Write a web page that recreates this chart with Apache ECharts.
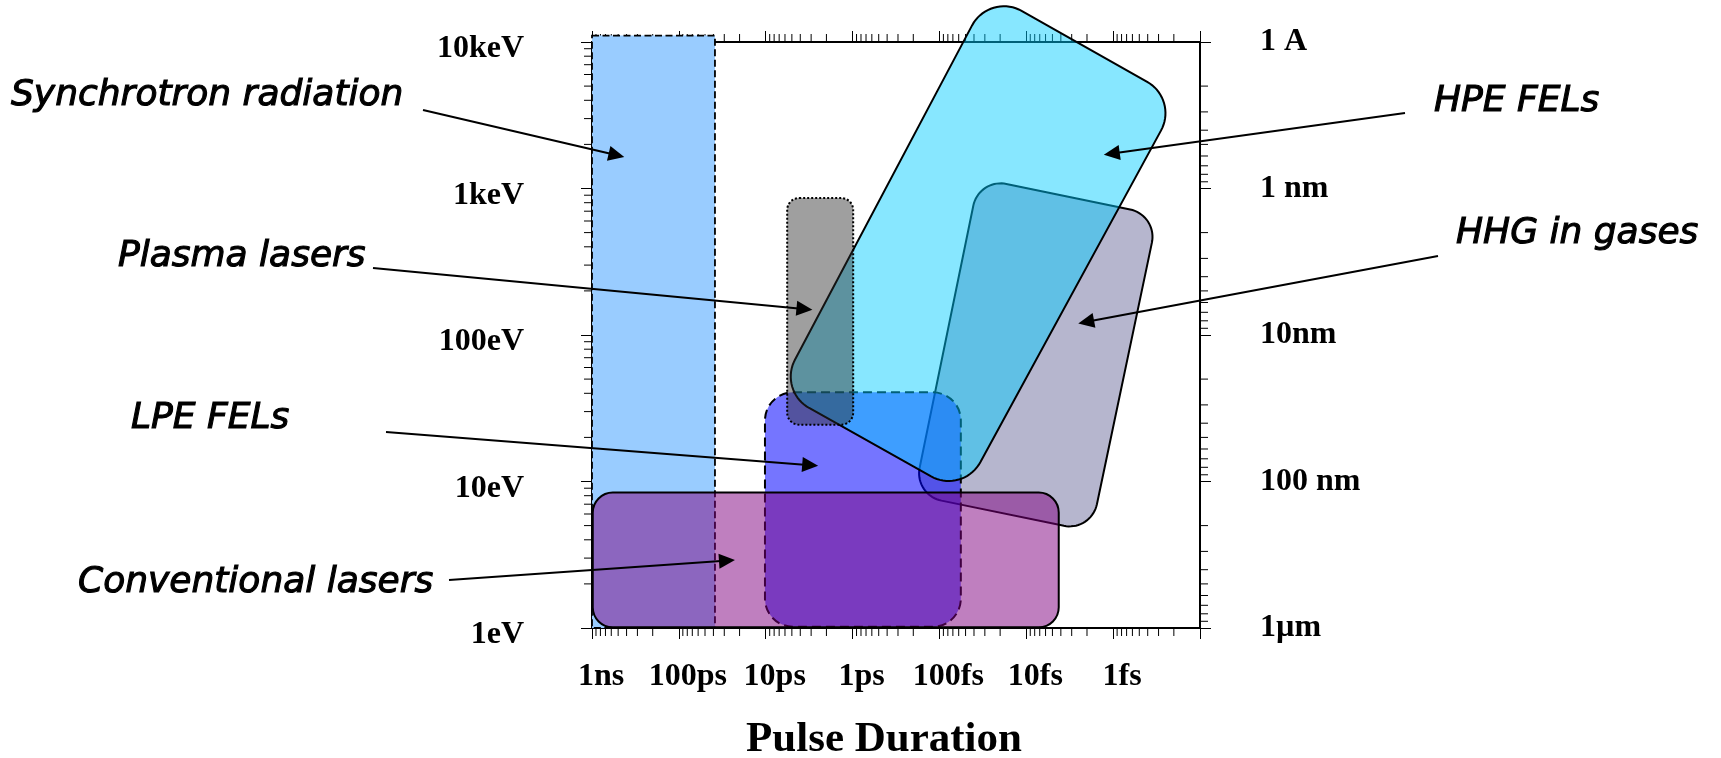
<!DOCTYPE html>
<html><head><meta charset="utf-8">
<script src="https://cdn.jsdelivr.net/npm/echarts@6/dist/echarts.min.js"></script>
<style>html,body{margin:0;padding:0;background:#fff}#c{width:1721px;height:758px}</style>
</head><body><div id="c"></div>
<script>
// ---------- axis ticks / labels ----------
const timeTickValues = [1e-9, 1e-10, 1e-11, 1e-12, 1e-13, 1e-14, 1e-15, 1e-16];
const timeTickLabels = ['1ns', '100ps', '10ps', '1ps', '100fs', '10fs', '1fs', ''];
const energyTickValues = [1, 10, 100, 1000, 10000];
const energyTickLabels = ['1eV', '10eV', '100eV', '1keV', '10keV'];
const wavelengthTickValues = [0.1, 1, 10, 100, 1000];
const wavelengthTickLabels = ['1 A', '1 nm', '10nm', '100 nm', '1\u00b5m'];
const minorMultipliers = [2, 3, 4, 5, 6, 7, 8, 9];
const timeDecades = [-16, -15, -14, -13, -12, -11, -10];
const energyDecades = [0, 1, 2, 3];
const wavelengthDecades = [-1, 0, 1, 2];

// ---------- regions (pulse duration [s], photon energy [eV]) ----------
// axis-aligned boxes: [longest duration, lowest energy, shortest duration, highest energy]
const synchrotronBox = [1e-9, 1, 3.84e-11, 11060];
const plasmaBox = [5.66e-12, 24.4, 9.84e-13, 861];
const lpeBox = [1.02e-11, 1.02, 5.67e-14, 40.6];
const conventionalBox = [9.8e-10, 1.01, 4.23e-15, 8.4];
// tilted regions: corner points [duration, energy]
const hpeCorners = [[2.66e-14, 21700], [1.79e-16, 4065], [5.37e-14, 8.19], [7.13e-12, 41.6]];
const hhgCorners = [[3.51e-14, 1175], [3.07e-16, 658], [1.79e-15, 4.56], [1.96e-13, 8.09]];

// ---------- annotations ----------
const annotationNames = ['Synchrotron radiation', 'Plasma lasers', 'LPE FELs', 'Conventional lasers', 'HPE FELs', 'HHG in gases'];
const annotationTips = [[4.25e-10, 1641], [2.9e-12, 148.6], [2.49e-12, 12.8], [2.26e-11, 2.91], [1.28e-15, 1702], [2.52e-15, 120]];

// layout (pixels) for annotation text and arrow tails
const annotationLayout = [
  {tx: 11, ty: 96, ax: 423, ay: 110},
  {tx: 118, ty: 257, ax: 373, ay: 268},
  {tx: 131, ty: 419, ax: 386, ay: 432},
  {tx: 78, ty: 583, ax: 449, ay: 580},
  {tx: 1434, ty: 102, ax: 1405, ay: 113},
  {tx: 1456, ty: 234, ax: 1438, ay: 256}
];

const T_LONG = 1e-9, T_SHORT = 1e-16, E_MIN = 1, E_MAX = 10000, L_MIN = 0.1, L_MAX = 1000;
const MINOR_LEN = 8;

function minorList(decades) {
  const out = [];
  decades.forEach(n => minorMultipliers.forEach(k => out.push(k * Math.pow(10, n))));
  return out;
}
function labelFor(values, labels) {
  return v => {
    const e = Math.round(Math.log10(v));
    const i = values.findIndex(x => Math.round(Math.log10(x)) === e);
    return i >= 0 ? labels[i] : '';
  };
}
function roundedPolygon(pts, r) {
  const out = [], n = pts.length;
  for (let i = 0; i < n; i++) {
    const P = pts[i], A = pts[(i - 1 + n) % n], B = pts[(i + 1) % n];
    let u1 = [A[0] - P[0], A[1] - P[1]], u2 = [B[0] - P[0], B[1] - P[1]];
    const l1 = Math.hypot(u1[0], u1[1]), l2 = Math.hypot(u2[0], u2[1]);
    u1 = [u1[0] / l1, u1[1] / l1]; u2 = [u2[0] / l2, u2[1] / l2];
    const th = Math.acos(Math.max(-1, Math.min(1, u1[0] * u2[0] + u1[1] * u2[1])));
    const rr = Math.min(r, Math.min(l1, l2) / 2 * Math.tan(th / 2));
    const d = rr / Math.tan(th / 2);
    const T1 = [P[0] + u1[0] * d, P[1] + u1[1] * d], T2 = [P[0] + u2[0] * d, P[1] + u2[1] * d];
    let bis = [u1[0] + u2[0], u1[1] + u2[1]];
    const bl = Math.hypot(bis[0], bis[1]); bis = [bis[0] / bl, bis[1] / bl];
    const h = rr / Math.sin(th / 2);
    const C = [P[0] + bis[0] * h, P[1] + bis[1] * h];
    const a1 = Math.atan2(T1[1] - C[1], T1[0] - C[0]);
    let da = Math.atan2(T2[1] - C[1], T2[0] - C[0]) - a1;
    while (da > Math.PI) da -= 2 * Math.PI;
    while (da < -Math.PI) da += 2 * Math.PI;
    for (let s = 0; s <= 18; s++) {
      const a = a1 + da * s / 18;
      out.push([C[0] + rr * Math.cos(a), C[1] + rr * Math.sin(a)]);
    }
  }
  return out;
}
function boxSeries(name, box, r, style) {
  return {
    type: 'custom', name, silent: true, data: [box],
    renderItem: (p, api) => {
      const a = api.coord([api.value(0), api.value(1)]);
      const b = api.coord([api.value(2), api.value(3)]);
      return {type: 'rect', shape: {x: Math.min(a[0], b[0]), y: Math.min(a[1], b[1]),
        width: Math.abs(a[0] - b[0]), height: Math.abs(a[1] - b[1]), r}, style};
    }
  };
}
function tiltedSeries(name, corners, r, style) {
  return {
    type: 'custom', name, silent: true, data: [corners.flat()],
    renderItem: (p, api) => {
      const pts = [];
      for (let i = 0; i < 4; i++) pts.push(api.coord([api.value(2 * i), api.value(2 * i + 1)]));
      return {type: 'polygon', shape: {points: roundedPolygon(pts, r)}, style};
    }
  };
}
const tickStyle = {stroke: '#000', lineWidth: 1};
const labelFont = {fontFamily: 'Liberation Serif', fontWeight: 'bold', fontSize: 32, color: '#000'};

const chart = echarts.init(document.getElementById('c'));
chart.setOption({
  animation: false,
  backgroundColor: '#fff',
  grid: {left: 592, right: 521, top: 42, bottom: 130, containLabel: false, outerBoundsMode: 'none'},
  xAxis: [{
    type: 'log', min: T_SHORT, max: T_LONG, inverse: true, splitNumber: 7,
    axisLine: {show: true, lineStyle: {color: '#000', width: 2}},
    axisTick: {show: true, inside: false, length: 11, lineStyle: {color: '#000', width: 1}},
    splitLine: {show: false}, minorTick: {show: false},
    axisLabel: Object.assign({margin: 33, showMinLabel: true, showMaxLabel: true, padding: [0, 0, 0, 18],
      formatter: labelFor(timeTickValues, timeTickLabels)}, labelFont),
    name: 'Pulse Duration', nameLocation: 'middle', nameGap: 90,
    nameTextStyle: {fontFamily: 'Liberation Serif', fontWeight: 'bold', fontSize: 43, color: '#000', padding: [0, 24, 0, 0]}
  }, {
    type: 'log', min: T_SHORT, max: T_LONG, inverse: true, splitNumber: 7, position: 'top',
    axisLine: {show: true, lineStyle: {color: '#000', width: 2}},
    axisTick: {show: true, inside: false, length: 11, lineStyle: {color: '#000', width: 1}},
    splitLine: {show: false}, axisLabel: {show: false}
  }],
  yAxis: [{
    type: 'log', min: E_MIN, max: E_MAX, splitNumber: 4,
    axisLine: {show: true, lineStyle: {color: '#000', width: 2}},
    axisTick: {show: true, inside: false, length: 11, lineStyle: {color: '#000', width: 1}},
    splitLine: {show: false},
    axisLabel: Object.assign({margin: 68, showMinLabel: true, showMaxLabel: true,
      verticalAlign: 'top', lineHeight: 14,
      formatter: labelFor(energyTickValues, energyTickLabels)}, labelFont)
  }, {
    type: 'log', min: L_MIN, max: L_MAX, inverse: true, splitNumber: 4, position: 'right',
    axisLine: {show: true, lineStyle: {color: '#000', width: 2}},
    axisTick: {show: true, inside: false, length: 11, lineStyle: {color: '#000', width: 1}},
    splitLine: {show: false},
    axisLabel: Object.assign({margin: 60, showMinLabel: true, showMaxLabel: true,
      formatter: labelFor(wavelengthTickValues, wavelengthTickLabels)}, labelFont)
  }],
  series: [
    { // minor ticks on time axes (bottom + top)
      type: 'custom', name: 'timeMinor', silent: true,
      data: minorList(timeDecades).map(v => [v, E_MIN]),
      renderItem: (p, api) => {
        const b = api.coord([api.value(0), E_MIN]), t = api.coord([api.value(0), E_MAX]);
        return {type: 'group', children: [
          {type: 'line', shape: {x1: b[0], y1: b[1], x2: b[0], y2: b[1] + MINOR_LEN}, style: tickStyle},
          {type: 'line', shape: {x1: t[0], y1: t[1], x2: t[0], y2: t[1] - MINOR_LEN}, style: tickStyle}
        ]};
      }
    },
    { // minor ticks on energy axis (left)
      type: 'custom', name: 'energyMinor', silent: true,
      data: minorList(energyDecades).map(v => [T_LONG, v]),
      renderItem: (p, api) => {
        const a = api.coord([T_LONG, api.value(1)]);
        return {type: 'line', shape: {x1: a[0], y1: a[1], x2: a[0] - MINOR_LEN, y2: a[1]}, style: tickStyle};
      }
    },
    { // minor ticks on wavelength axis (right)
      type: 'custom', name: 'wavelengthMinor', silent: true, yAxisIndex: 1,
      data: minorList(wavelengthDecades).map(v => [T_SHORT, v]),
      renderItem: (p, api) => {
        const a = api.coord([T_SHORT, api.value(1)]);
        return {type: 'line', shape: {x1: a[0], y1: a[1], x2: a[0] + MINOR_LEN, y2: a[1]}, style: tickStyle};
      }
    },
    boxSeries('Synchrotron radiation', synchrotronBox, 0,
      {fill: '#99CCFF', stroke: '#000', lineWidth: 1.8, lineDash: [7, 3.5]}),
    tiltedSeries('HHG in gases', hhgCorners, 28,
      {fill: 'rgba(102,102,153,0.48)', stroke: '#000', lineWidth: 2}),
    boxSeries('LPE FELs', lpeBox, 28,
      {fill: 'rgba(0,0,255,0.54)', stroke: '#000', lineWidth: 2, lineDash: [9, 5]}),
    tiltedSeries('HPE FELs', hpeCorners, 36,
      {fill: 'rgba(0,204,255,0.47)', stroke: '#000', lineWidth: 2}),
    boxSeries('Plasma lasers', plasmaBox, 12,
      {fill: 'rgba(42,42,42,0.45)', stroke: '#000', lineWidth: 2, lineDash: [2, 2]}),
    boxSeries('Conventional lasers', conventionalBox, 20,
      {fill: 'rgba(128,0,128,0.5)', stroke: '#000', lineWidth: 2}),
    { // annotations: labels + arrows pointing into the regions
      type: 'custom', name: 'annotations', silent: true, data: annotationTips,
      renderItem: (p, api) => {
        const i = p.dataIndex, L = annotationLayout[i];
        const tip = api.coord([api.value(0), api.value(1)]);
        const dx = tip[0] - L.ax, dy = tip[1] - L.ay, len = Math.hypot(dx, dy);
        const ux = dx / len, uy = dy / len, hl = 16, hw = 7.5;
        const bx = tip[0] - ux * hl, by = tip[1] - uy * hl;
        return {type: 'group', children: [
          {type: 'line', shape: {x1: L.ax, y1: L.ay, x2: bx + ux * 2, y2: by + uy * 2},
            style: {stroke: '#000', lineWidth: 2}},
          {type: 'polygon', shape: {points: [tip, [bx - uy * hw, by + ux * hw], [bx + uy * hw, by - ux * hw]]},
            style: {fill: '#000'}},
          {type: 'text', x: L.tx, y: L.ty, style: {text: annotationNames[i], fill: '#000',
            stroke: '#000', lineWidth: 1.1,
            fontFamily: 'DejaVu Sans', fontStyle: 'italic', fontSize: 36, align: 'left', verticalAlign: 'middle'}}
        ]};
      }
    }
  ]
});
</script></body></html>
